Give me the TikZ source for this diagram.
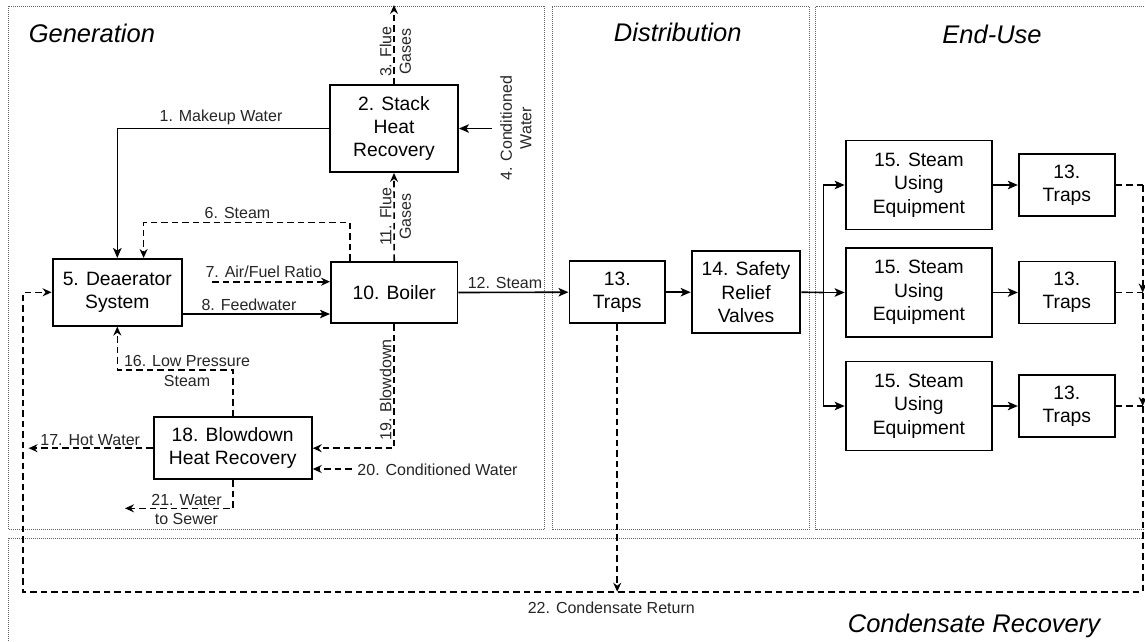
\documentclass[tikz,border=0pt]{standalone}
\usepackage{fontspec}
\setmainfont{Liberation Sans}
\usetikzlibrary{arrows.meta,calc}
\begin{document}
\begin{tikzpicture}[x=1pt,y=-1pt,
  box/.style={draw,line width=1.9pt,align=center,inner sep=0pt,font=\fontsize{19.3}{23.3}\selectfont},
  lbl/.style={align=center,inner sep=0pt,text=black!85,font=\fontsize{16}{19.5}\selectfont},
  ttl/.style={inner sep=0pt,font=\fontsize{25.5}{30}\selectfont\itshape},
  zone/.style={draw=black!60,line width=0.8pt,dash pattern=on 0.9pt off 1.1pt},
  flow/.style={draw,line width=1.6pt,-{Stealth[length=10pt,width=8.5pt,inset=2.5pt]}},
  pipe/.style={draw,line width=1.6pt},
  dflow/.style={draw,line width=1.6pt,dash pattern=on 6.5pt off 4pt,-{Stealth[length=9pt,width=8pt,inset=3pt]}},
  dpipe/.style={draw,line width=1.6pt,dash pattern=on 6.5pt off 4pt},
]
\useasboundingbox (0,0) rectangle (1145,641);
\clip (0,0) rectangle (1145,641);
\fill[white] (0,0) rectangle (1145,641);

% zones
\draw[zone] (8,6) rectangle (544.5,529.3);
\draw[zone] (552,6.5) rectangle (809.5,529.3);
\draw[zone] (815.5,6.5) rectangle (1152,529.3);
\draw[zone] (8,538.3) rectangle (1152,660);

\node[ttl,anchor=west] (tgen) at (28.6,33.3) {Generation};
\node[ttl] (tdist) at (677.7,32.3) {Distribution};
\node[ttl] (tend) at (992,34) {End-Use};
\node[ttl] (tcond) at (974,626) {Condensate Recovery};

% equipment boxes
\node[box,minimum width=128pt,minimum height=87pt] (stack) at (394,128.5) {2. Stack\\Heat\\Recovery};
\node[box,minimum width=129.5pt,minimum height=66.7pt] (dea) at (117.3,292.3) {5. Deaerator\\System};
\node[box,minimum width=126.5pt,minimum height=61.6pt] (boiler) at (394.2,292.5) {10. Boiler};
\node[box,minimum width=158.2pt,minimum height=61.7pt] (blow) at (232.7,448.2) {18. Blowdown\\Heat Recovery};
\node[box,minimum width=95.5pt,minimum height=62.3pt] (trapsD) at (617.2,292.2) {13.\\Traps};
\node[box,minimum width=108.7pt,minimum height=82.3pt] (safety) at (746,292.2) {14. Safety\\Relief\\Valves};
\node[box,minimum width=146.6pt,minimum height=89pt] (eqA) at (918.9,185) {15. Steam\\Using\\Equipment};
\node[box,minimum width=146.6pt,minimum height=89pt] (eqB) at (918.9,292.5) {15. Steam\\Using\\Equipment};
\node[box,minimum width=146.6pt,minimum height=89pt] (eqC) at (918.9,406) {15. Steam\\Using\\Equipment};
\node[box,minimum width=96pt,minimum height=62pt] (trA) at (1066.8,185) {13.\\Traps};
\node[box,minimum width=96pt,minimum height=62pt] (trB) at (1066.8,292.5) {13.\\Traps};
\node[box,minimum width=96pt,minimum height=62pt] (trC) at (1066.8,406) {13.\\Traps};

% free ends and junctions
\coordinate (flueTop) at (394,5);
\coordinate (cw4) at (492,128.5);
\coordinate (af) at (212,281.7);
\coordinate (fw) at (182,314);
\coordinate (bus) at (823.3,292.5);
\coordinate (jA) at (1142.7,185);
\coordinate (jB) at (1142.7,292.5);
\coordinate (jC) at (1142.7,406);
\coordinate (jL) at (23,591.7);
\coordinate (hw) at (28.6,448.2);
\coordinate (cw20) at (351.8,469);
\coordinate (sew) at (125,508.3);

% generation connectors
\draw[flow] (stack.west) -| (dea.north);
\draw[dflow] (stack.north) -- (flueTop);
\draw[flow] (cw4) -- (stack.east);
\draw[dflow] (boiler.north) -- (stack.south);
\draw[dflow] ([xshift=20pt]boiler.north west) -- ++(0,-38.4) -| ([xshift=92pt]dea.north west);
\draw[dflow] (af) -- (af -| boiler.west);
\draw[flow] (fw) -- (fw -| boiler.west);
\draw[flow] (boiler.east) -- (trapsD.west);
\draw[dflow] (blow.north) -- ++(0,-46.3) -| (dea.south);
\draw[dflow] (blow.west) -- (hw);
\draw[dflow] (boiler.south) |- (blow.east);
\draw[dflow] (cw20) -- (cw20 -| blow.east);
\draw[dflow] (blow.south) |- (sew);

% distribution and end-use connectors
\draw[flow] (trapsD.east) -- (safety.west);
\draw[pipe] (safety.east) -- (bus);
\draw[flow] (bus) |- (eqA.west);
\draw[flow] (bus) -- (eqB.west);
\draw[flow] (bus) |- (eqC.west);
\draw[flow] (eqA.east) -- (trA.west);
\draw[flow] (eqB.east) -- (trB.west);
\draw[flow] (eqC.east) -- (trC.west);

% condensate return
\draw[dpipe] (trA.east) -- (jA);
\draw[dflow] (jA) -- (jB);
\draw[dpipe] (trB.east) -- (jB);
\draw[dflow] (jB) -- (jC);
\draw[dpipe] (trC.east) -- (jC);
\draw[dflow] (jC) |- (jL) |- (dea.west);
\draw[dflow] (trapsD.south) -- (trapsD.south |- jL);

% labels
\node[lbl] (l1) at (221,117.3) {1. Makeup Water};
\node[lbl,rotate=90] (l3) at (395.5,51.7) {3. Flue\\Gases};
\node[lbl,rotate=90] (l4) at (516,128.3) {4. Conditioned\\Water};
\node[lbl] (l6) at (237.5,213) {6. Steam};
\node[lbl] (l7) at (263.6,271.7) {7. Air/Fuel Ratio};
\node[lbl] (l8) at (249,305) {8. Feedwater};
\node[lbl,rotate=90] (l11) at (395.5,216.7) {11. Flue\\Gases};
\node[lbl] (l12) at (505,282.7) {12. Steam};
\node[lbl] (l16) at (187,371) {16. Low Pressure\\Steam};
\node[lbl] (l17) at (90.2,440) {17. Hot Water};
\node[lbl,rotate=90] (l19) at (385.7,390) {19. Blowdown};
\node[lbl] (l20) at (437.5,469.7) {20. Conditioned Water};
\node[lbl] (l21) at (186.5,509.5) {21. Water\\to Sewer};
\node[lbl] (l22) at (611.3,607.3) {22. Condensate Return};
\end{tikzpicture}
\end{document}
